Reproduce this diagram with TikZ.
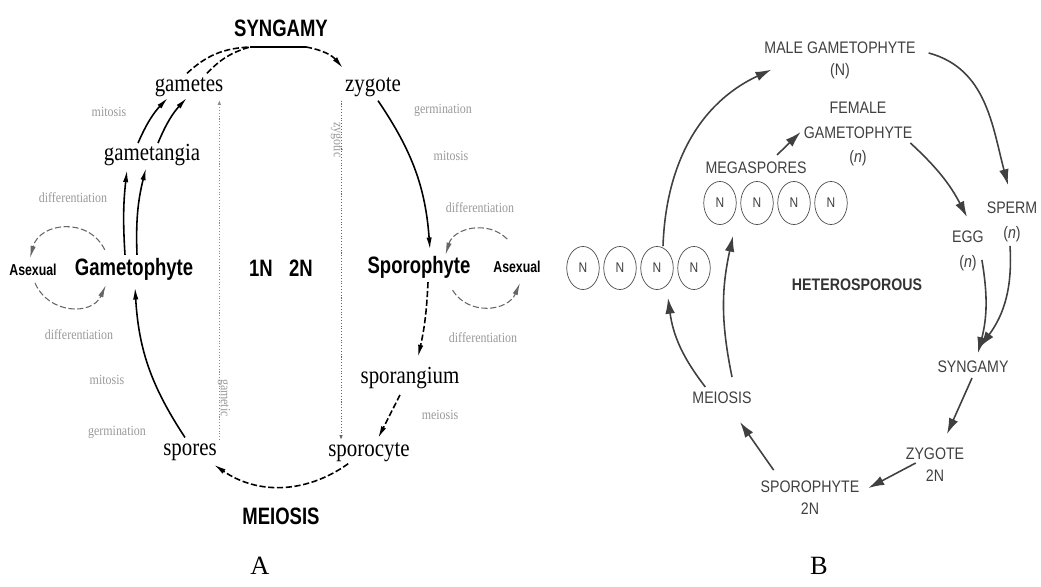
\documentclass[tikz,border=0pt]{standalone}
\usepackage{fontspec}
\setmainfont{Liberation Serif}
\newfontfamily\csans[FakeStretch=0.78]{Liberation Sans}
\newfontfamily\bsans[FakeStretch=0.85]{Liberation Sans}
\newfontfamily\cserif[FakeStretch=0.85]{Liberation Serif}
\usetikzlibrary{arrows.meta,calc,shapes.geometric}

\begin{document}
\begin{tikzpicture}[x=0.02cm,y=-0.02cm,>=Latex]
\tikzstyle{big}=[font=\csans\bfseries\fontsize{13.5}{15}\selectfont,inner sep=1pt]
\tikzstyle{sm}=[font=\cserif\fontsize{14}{16}\selectfont,inner sep=1pt]
\tikzstyle{gr}=[font=\cserif\fontsize{8}{9}\selectfont,text=black!40,inner sep=1pt]
\tikzstyle{asx}=[font=\csans\bfseries\fontsize{9}{10}\selectfont,inner sep=1pt]
\tikzstyle{bt}=[font=\bsans\fontsize{9.5}{12.5}\selectfont,text=black!75,align=center,inner sep=1pt]
\tikzstyle{bt2}=[bt,font=\bsans\fontsize{9.5}{14}\selectfont]
\tikzstyle{sp}=[draw=black!70,ellipse,minimum width=18.5pt,minimum height=24.5pt,inner sep=0pt,font=\bsans\fontsize{8}{9}\selectfont,text=black!75]
\tikzstyle{la}=[->,line width=0.9pt,>={Latex[length=7pt,width=3pt]}]
\tikzstyle{lb}=[->,line width=0.9pt,draw=black!75,>={Latex[length=9pt,width=5.5pt]}]
\tikzstyle{dsh}=[dash pattern=on 3.5pt off 1.5pt]
\tikzstyle{lp}=[la,dsh,line width=0.6pt,draw=black!60]
\useasboundingbox (0,0) rectangle (1041,587);

% A: generalized cycle
\node[big] (syn) at (281,28) {SYNGAMY};
\node[sm] (gam) at (189,87) {gametes};
\node[sm] (gan) at (152,155) {gametangia};
\node[big] (gph) at (134,269) {Gametophyte};
\node[asx] (asl) at (33,270) {Asexual};
\node[big] (n1) at (261,268) {1N};
\node[big] (n2) at (301,268) {2N};
\node[sm] (zyg) at (373,87) {zygote};
\node[big] (sph) at (419,267) {Sporophyte};
\node[asx] (asr) at (517,267) {Asexual};
\node[sm] (sgm) at (410,378) {sporangium};
\node[sm] (scy) at (369,452) {sporocyte};
\node[sm] (spo) at (190,452) {spores};
\node[big] (mei) at (281,516) {MEIOSIS};
\node[font=\fontsize{15}{17}\selectfont] (capA) at (260,566) {A};
\node[gr] (g1) at (109,112) {mitosis};
\node[gr] (g2) at (73,198) {differentiation};
\node[gr] (g3) at (79,335) {differentiation};
\node[gr] (g4) at (107,380) {mitosis};
\node[gr] (g5) at (117,432) {germination};
\node[gr] (g6) at (443,110) {germination};
\node[gr] (g7) at (451,156) {mitosis};
\node[gr] (g8) at (480,208) {differentiation};
\node[gr] (g9) at (483,338) {differentiation};
\node[gr] (g10) at (440,415) {meiosis};
\node[gr,rotate=-90] (g11) at (337,140) {zygotic};
\node[gr,rotate=-90] (g12) at (224,398) {gametic};

\draw[la] ($(gph.north)+(-9,-1)$) to[bend left=5] ($(gan.south)+(-25,2)$);
\draw[la] ($(gph.north)+(3,-1)$) to[bend left=8] ($(gan.south)+(-6,0)$);
\draw[la] ($(gan.north)+(-14,1)$) to[bend left=10] ($(gam.south)+(-21,-1)$);
\draw[la] ($(gan.north)+(6,1)$) to[bend left=10] ($(gam.south)+(-2,-1)$);
\coordinate (sj) at (250,47);
\coordinate (sk) at (306,47);
\draw[dsh,line width=0.9pt] ($(gam.north)+(-2,-2)$) to[bend left=20] (sj);
\draw[dsh,line width=0.9pt] ($(gam.north)+(18,-2)$) to[bend left=15] (sj);
\draw[line width=0.9pt] (sj) -- (sk);
\draw[la,dsh] (sk) to[bend left=20] ($(zyg.north west)+(0,-7)$);
\draw[la] ($(zyg.south)+(5,2)$) to[bend left=15] ($(sph.north)+(11,-4)$);
\draw[la,dsh] ($(sph.south)+(9,2)$) to[bend left=5] ($(sgm.north)+(8,-8)$);
\draw[la,dsh] ($(sgm.south)+(-10,4)$) to ($(scy.north)+(9,-2)$);
\draw[la,dsh] ($(scy.south west)+(22,0)$) to[bend left=35] ($(spo.south east)+(-5,2)$);
\draw[la] ($(spo.north)+(-5,-4)$) to[bend left=15] ($(gph.south)+(1,5)$);
% asexual loops
\draw[lp] ($(gph.north west)+(32,-6)$) to[out=116,in=75,looseness=1.26] ($(asl.north)+(-3,-4)$);
\draw[lp] ($(asl.south)+(2,5)$) to[out=293,in=246,looseness=1.22] ($(gph.south west)+(33,3)$);
\draw[lp] ($(asr.north west)+(16,-20)$) to[out=135,in=73,looseness=1.12] ($(sph.north east)+(-27,1)$);
\draw[lp] ($(sph.south east)+(-20,10)$) to[out=302,in=247,looseness=1.16] ($(asr.south)+(3,8)$);
% 1N / 2N borders
\coordinate (dl) at ($(gam.south east)+(-6,1)$);
\coordinate (dr) at ($(zyg.south west)+(-2,2)$);
\draw[densely dotted,black!45,line width=0.6pt,<-,>={Latex[length=3pt,width=2pt]}] (dl) -- (dl |- spo.north);
\draw[densely dotted,black!60,line width=0.6pt,->,>={Latex[length=3pt,width=2pt]}] (dr) -- (dr |- scy.north);

% B: heterosporous cycle
\node[bt] (male) at (840,60) {MALE GAMETOPHYTE\\(N)};
\node[bt2] (fem) at (858,134) {FEMALE\\GAMETOPHYTE\\(\textit{n})};
\node[bt] (msp) at (756,168) {MEGASPORES};
\foreach \i in {1,...,4} \node[sp] (mc\i) at (683+37*\i,203) {N};
\foreach \i in {1,...,4} \node[sp] (sc\i) at (546+37*\i,268) {N};
\node[bt2] (egg) at (968,251) {EGG\\(\textit{n})};
\node[bt2] (spm) at (1012,222) {SPERM\\(\textit{n})};
\node[bt] (syb) at (973,367) {SYNGAMY};
\node[bt] (zyb) at (935,465) {ZYGOTE\\2N};
\node[bt] (spb) at (810,498) {SPOROPHYTE\\2N};
\node[bt,font=\bsans\bfseries\fontsize{9.5}{11}\selectfont,text=black!80] (het) at (857,285) {HETEROSPOROUS};
\node[bt] (meb) at (722,398) {MEIOSIS};
\node[font=\fontsize{15}{17}\selectfont] (capB) at (819,566) {B};

\draw[lb] ($(sc3.north)+(6,0)$) to[out=88,in=205] ($(male.south west)+(9,-11)$);
\draw[lb] ($(male.east)+(11,-7)$) to[out=-15,in=105] ($(spm.north)+(-4,-15)$);
\draw[lb] ($(msp.north)+(21,-5)$) -- ($(fem.west)+(-1,-2)$);
\draw[lb] ($(fem.east)+(-4,9)$) to[bend left=10] ($(egg.north)+(-1,-12)$);
\draw[lb] ($(egg.south east)+(-4,-13)$) to[bend left=12] ($(syb.north)+(5,-6)$);
\draw[lb] ($(spm.south)+(-2,2)$) to[bend left=20] ($(syb.north)+(7,-12)$);
\draw[lb] ($(syb.south)+(-1,3)$) -- ($(zyb.north)+(12,-12)$);
\draw[lb] ($(zyb.west)+(12,-2)$) -- ($(spb.east)+(7,-10)$);
\draw[lb] ($(spb.north west)+(15,-9)$) -- ($(meb.south)+(18,16)$);
\draw[lb] ($(meb.north west)+(15,-3)$) to[bend left=15] ($(sc3.south)+(11,8)$);
\draw[lb] ($(meb.north)+(10,-13)$) to[bend left=12] ($(mc1.south)+(13,11)$);
\end{tikzpicture}
\end{document}
